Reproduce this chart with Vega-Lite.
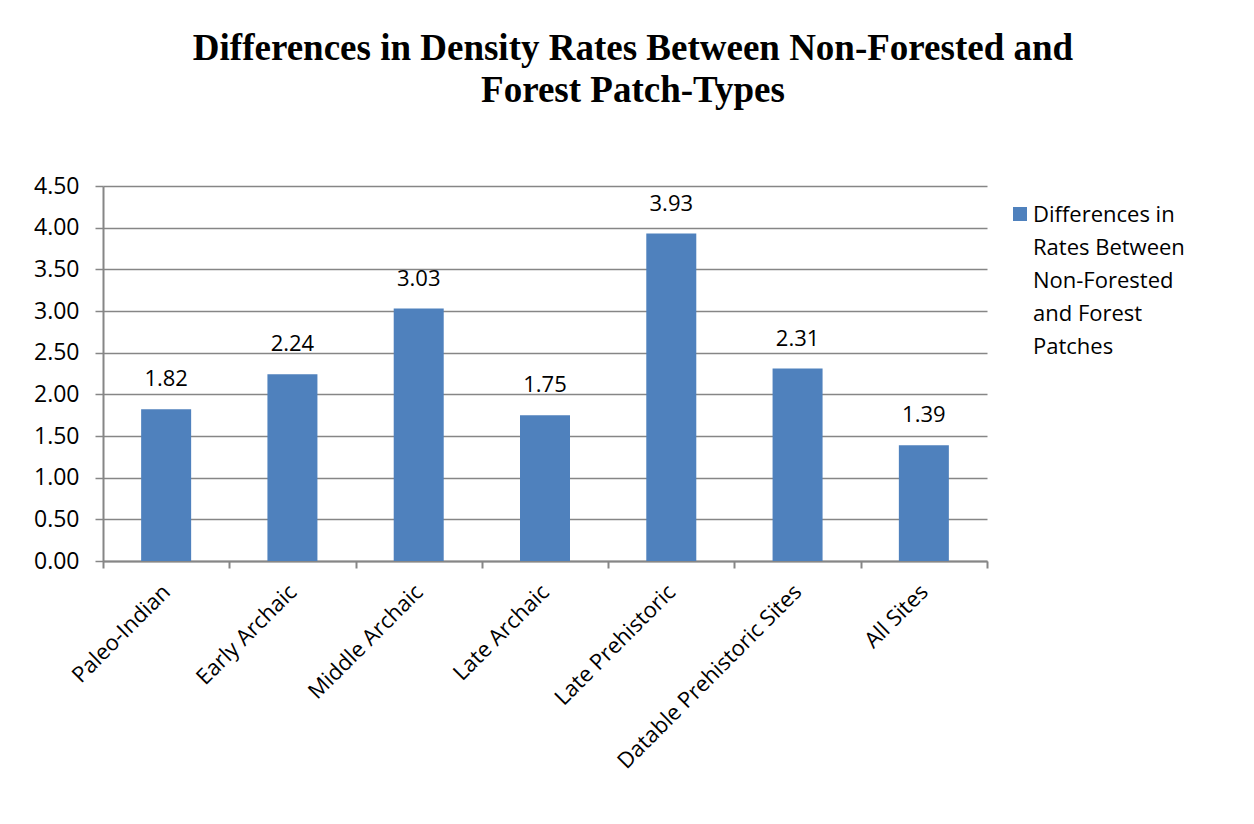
{
  "$schema": "https://vega.github.io/schema/vega-lite/v6.json",
  "width": 884,
  "height": 375,
  "autosize": "none",
  "padding": {"left": 103, "top": 186, "right": 267, "bottom": 263},
  "background": "white",
  "title": {
    "text": ["Differences in Density Rates Between Non-Forested and", "Forest Patch-Types"],
    "font": "Liberation Serif",
    "fontSize": 37,
    "fontWeight": "bold",
    "color": "black",
    "anchor": "middle",
    "dx": 88,
    "offset": 65,
    "lineHeight": 42
  },
  "data": {
    "values": [
      {"period": "Paleo-Indian", "series": "Differences in Rates Between Non-Forested and Forest Patches", "difference": 1.82},
      {"period": "Early Archaic", "series": "Differences in Rates Between Non-Forested and Forest Patches", "difference": 2.24},
      {"period": "Middle Archaic", "series": "Differences in Rates Between Non-Forested and Forest Patches", "difference": 3.03},
      {"period": "Late Archaic", "series": "Differences in Rates Between Non-Forested and Forest Patches", "difference": 1.75},
      {"period": "Late Prehistoric", "series": "Differences in Rates Between Non-Forested and Forest Patches", "difference": 3.93},
      {"period": "Datable Prehistoric Sites", "series": "Differences in Rates Between Non-Forested and Forest Patches", "difference": 2.31},
      {"period": "All Sites", "series": "Differences in Rates Between Non-Forested and Forest Patches", "difference": 1.39}
    ]
  },
  "encoding": {
    "x": {
      "field": "period",
      "type": "nominal",
      "sort": null,
      "title": null,
      "scale": {"paddingInner": 0, "paddingOuter": 0},
      "axis": {
        "labelAngle": -45,
        "labelAlign": "right",
        "labelBaseline": "middle",
        "labelFont": "Open Sans",
        "labelFontSize": 22,
        "labelColor": "black",
        "labelPadding": 20,
        "labelLimit": 500,
        "tickBand": "extent",
        "tickSize": 7,
        "tickColor": "#868686",
        "tickWidth": 2,
        "domainColor": "#868686",
        "domainWidth": 2,
        "grid": false
      }
    },
    "y": {
      "field": "difference",
      "type": "quantitative",
      "title": null,
      "scale": {"domain": [0, 4.5], "nice": false},
      "axis": {
        "values": [0, 0.5, 1, 1.5, 2, 2.5, 3, 3.5, 4, 4.5],
        "format": ".2f",
        "labelFont": "Open Sans",
        "labelFontSize": 23,
        "labelColor": "black",
        "labelPadding": 16,
        "tickSize": 8,
        "tickColor": "#868686",
        "tickWidth": 1.5,
        "domainColor": "#868686",
        "domainWidth": 2,
        "grid": true,
        "gridColor": "#868686",
        "gridWidth": 1.5
      }
    }
  },
  "layer": [
    {
      "mark": {"type": "bar", "size": 50},
      "encoding": {
        "color": {
          "field": "series",
          "type": "nominal",
          "scale": {"range": ["#4F81BD"]},
          "legend": {
            "title": null,
            "orient": "none",
            "legendX": 906,
            "legendY": 17,
            "symbolType": "square",
            "symbolSize": 196,
            "symbolStrokeWidth": 0,
            "labelFont": "Open Sans",
            "labelFontSize": 22,
            "labelColor": "black",
            "labelOffset": 2,
            "labelBaseline": "top",
            "labelLimit": 300,
            "labelExpr": "['Differences in', 'Rates Between', 'Non-Forested', 'and Forest', 'Patches']",
            "encode": {"labels": {"update": {"lineHeight": {"value": 33}, "dy": {"value": -9}}}}
          }
        }
      }
    },
    {
      "mark": {"type": "text", "dy": -18, "baseline": "bottom", "font": "Open Sans", "fontSize": 22, "color": "black"},
      "encoding": {
        "text": {"field": "difference", "type": "quantitative", "format": ".2f"}
      }
    }
  ],
  "config": {
    "view": {"stroke": null}
  }
}
